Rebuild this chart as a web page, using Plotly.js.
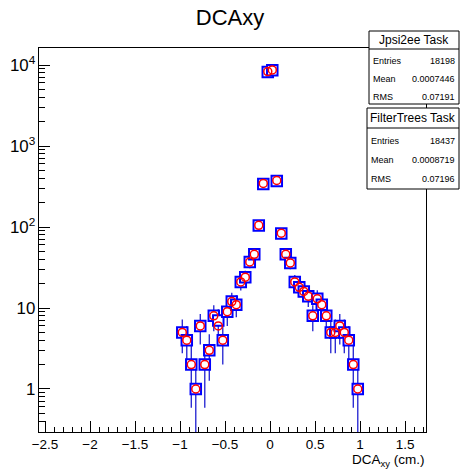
<!DOCTYPE html>
<html>
<head>
<meta charset="utf-8">
<script src="https://cdn.plot.ly/plotly-3.0.1.min.js"></script>
<style>html,body{margin:0;padding:0;background:#fff;}#chart{width:460px;height:469px;}</style>
</head>
<body>
<div id="chart"></div>
<script>
// Bin centres (DCAxy, cm)
const binCenters = [-0.975,-0.925,-0.875,-0.825,-0.775,-0.725,-0.675,-0.625,-0.575,-0.525,
                    -0.475,-0.425,-0.375,-0.325,-0.275,-0.225,-0.175,-0.125,-0.075,-0.025,
                     0.025, 0.075, 0.125, 0.175, 0.225, 0.275, 0.325, 0.375, 0.425, 0.475,
                     0.525, 0.575, 0.625, 0.675, 0.725, 0.775, 0.825, 0.875, 0.925, 0.975];
// Jpsi2ee Task counts
const jpsiCounts = [5,4,2,1,6,2,3,8,7,4,
                    9,12,11,21,24,37,46,104,340,8200,
                    8600,370,83,46,36,21,18,16,14,8,
                    13,11,8,5,5,6,5,4,2,1];
// FilterTrees Task counts
const filterCounts = [5,4,2,1,6,2,3,8,6,4,
                      9,12,11,21,24,37,46,105,345,8300,
                      8700,375,84,46,36,21,18,16,14,8,
                      13,11,8,5,5,6,5,4,2,1];
const statsTitles = ["Jpsi2ee Task","FilterTrees Task"];
const statsLabels = ["Entries","Mean","RMS"];
const jpsiStats = ["18198","0.0007446","0.07191"];
const filterStats = ["18437","0.0008719","0.07196"];

const FONT = "Liberation Sans, Arial, Helvetica, sans-serif";
// plot area in pixels
const L = 39, R = 426, T = 48, B = 432;
const px = x => (x - L) / (R - L);
const py = y => (B - y) / (B - T);

const traceJ = {
  x: binCenters, y: jpsiCounts, type: 'scatter', mode: 'markers', name: statsTitles[0],
  marker: {symbol: 'square', size: 10.5, color: 'white', line: {color: '#0000ff', width: 2}},
  error_y: {type: 'data', array: jpsiCounts.map(Math.sqrt), color: '#1f1fd0', thickness: 1.3, width: 0},
  cliponaxis: true
};
const traceF = {
  x: binCenters, y: filterCounts, type: 'scatter', mode: 'markers', name: statsTitles[1],
  marker: {symbol: 'circle-open', size: 8, color: '#ff0000', line: {color: '#ff0000', width: 1.5}},
  cliponaxis: true
};

const shapes = [];
const annotations = [];
function statBox(x0, x1, y0, ySep, y1, title, vals, rowYs) {
  shapes.push({type: 'rect', xref: 'paper', yref: 'paper', x0: px(x0), x1: px(x1), y0: py(y1), y1: py(y0),
               fillcolor: 'white', line: {color: 'black', width: 1}, layer: 'above'});
  shapes.push({type: 'line', xref: 'paper', yref: 'paper', x0: px(x0), x1: px(x1), y0: py(ySep), y1: py(ySep),
               line: {color: 'black', width: 1}, layer: 'above'});
  annotations.push({xref: 'paper', yref: 'paper', x: px((x0 + x1) / 2), y: py((y0 + ySep) / 2),
                    xanchor: 'center', yanchor: 'middle', showarrow: false, text: title,
                    font: {family: FONT, size: 12, color: 'black'}});
  for (let i = 0; i < statsLabels.length; i++) {
    annotations.push({xref: 'paper', yref: 'paper', x: px(x0 + 2), y: py(rowYs[i]), xanchor: 'left', yanchor: 'middle',
                      showarrow: false, text: statsLabels[i], font: {family: FONT, size: 9, color: 'black'}});
    annotations.push({xref: 'paper', yref: 'paper', x: px(x1 - 2), y: py(rowYs[i]), xanchor: 'right', yanchor: 'middle',
                      showarrow: false, text: vals[i], font: {family: FONT, size: 9, color: 'black'}});
  }
}
statBox(369, 459, 31, 49, 104, statsTitles[0], jpsiStats, [61, 79, 97]);
statBox(367, 459, 108, 128, 189, statsTitles[1], filterStats, [141, 160, 179]);

annotations.push({xref: 'paper', yref: 'paper', x: 1, y: py(460.5), xanchor: 'right', yanchor: 'middle',
                  showarrow: false, text: 'DCA<sub>xy</sub> (cm.)', font: {family: FONT, size: 13.5, color: 'black'}});

const layout = {
  width: 460, height: 469,
  margin: {l: L, r: 460 - R, t: T, b: 469 - B, pad: 0},
  paper_bgcolor: 'white', plot_bgcolor: 'white',
  showlegend: false,
  title: {text: 'DCAxy', x: 0.5, xref: 'container', xanchor: 'center', y: 1 - 17 / 469, yref: 'container', yanchor: 'middle',
          font: {family: FONT, size: 22, color: 'black'}},
  font: {family: FONT, color: 'black'},
  xaxis: {
    range: [-2.567, 1.733], tick0: 0, dtick: 0.5, ticks: 'inside', ticklen: 11, tickwidth: 1, tickcolor: 'black',
    minor: {dtick: 0.1, ticks: 'inside', ticklen: 5, tickwidth: 1, tickcolor: 'black', showgrid: false},
    showgrid: false, zeroline: false, showline: true, mirror: true, linecolor: 'black', linewidth: 1,
    tickfont: {family: FONT, size: 13.5, color: 'black'}
  },
  yaxis: {
    type: 'log', range: [-0.531, 4.21], dtick: 1, exponentformat: 'power',
    ticks: 'inside', ticklen: 11, tickwidth: 1, tickcolor: 'black',
    minor: {dtick: 'D1', ticks: 'inside', ticklen: 6, tickwidth: 1, tickcolor: 'black', showgrid: false},
    showgrid: false, zeroline: false, showline: true, mirror: true, linecolor: 'black', linewidth: 1,
    tickfont: {family: FONT, size: 13.5, color: 'black'}
  },
  shapes: shapes,
  annotations: annotations
};

Plotly.newPlot('chart', [traceJ, traceF], layout, {displayModeBar: false, staticPlot: true});
</script>
</body>
</html>
